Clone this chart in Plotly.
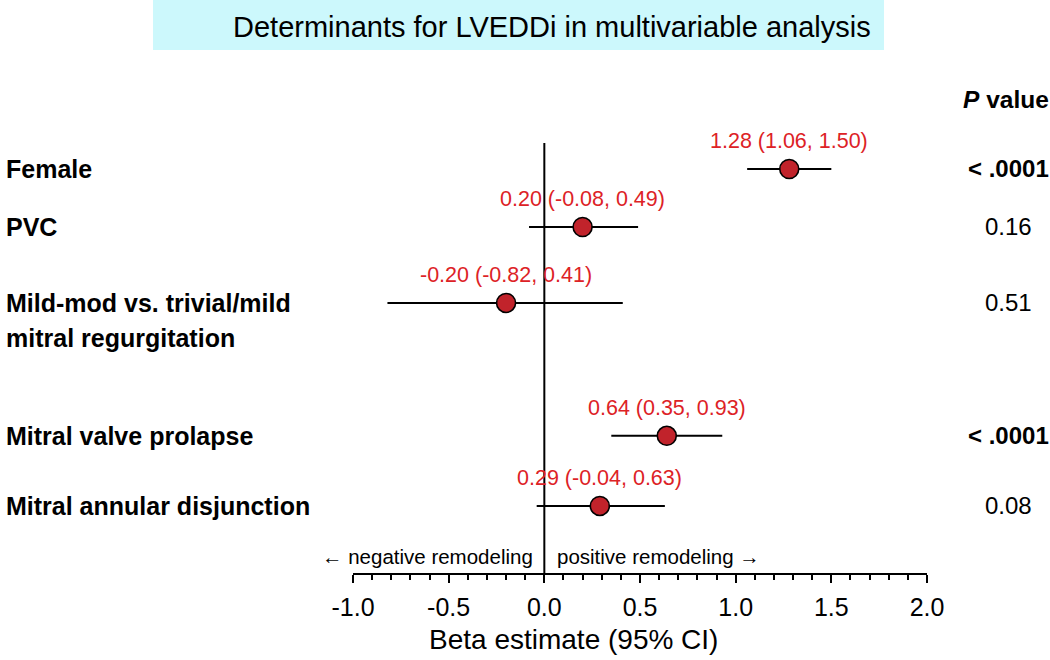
import plotly.graph_objects as go

# ---- data ----
factors = ["Female", "PVC", "Mild-mod vs. trivial/mild", "Mitral valve prolapse", "Mitral annular disjunction"]
factor_line2 = ["", "", "mitral regurgitation", "", ""]
estimates = [1.28, 0.20, -0.20, 0.64, 0.29]
ci_low = [1.06, -0.08, -0.82, 0.35, -0.04]
ci_high = [1.50, 0.49, 0.41, 0.93, 0.63]
p_values = ["< .0001", "0.16", "0.51", "< .0001", "0.08"]
p_bold = [True, False, False, True, False]
row_pos = [0, 1, 2.31, 4.60, 5.81]
tick_vals = [-1.0, -0.5, 0.0, 0.5, 1.0, 1.5, 2.0]
tick_text = ["-1.0", "-0.5", "0.0", "0.5", "1.0", "1.5", "2.0"]

FONT = "Liberation Sans, Arial, Helvetica, sans-serif"
RED_TXT = "#dd2226"
RED_FILL = "#c1232b"

W, H = 1050, 660
ML, MR, MT, MB = 353, 123, 143, 87
PW, PH = W - ML - MR, H - MT - MB


def px_to_paper_x(px):
    return (px - ML) / PW


def px_to_paper_y(py):
    return (H - MB - py) / PH


fig = go.Figure()

# CI lines
for est, lo, hi, y in zip(estimates, ci_low, ci_high, row_pos):
    fig.add_trace(go.Scatter(x=[lo, hi], y=[y, y], mode="lines",
                             line=dict(color="black", width=2),
                             showlegend=False, hoverinfo="skip"))

# point estimates
fig.add_trace(go.Scatter(x=estimates, y=row_pos, mode="markers",
                         marker=dict(size=19, color=RED_FILL,
                                     line=dict(color="black", width=1.6)),
                         showlegend=False))

# zero line
fig.add_shape(type="line", x0=0, x1=0, xref="x", y0=0, y1=1, yref="paper",
              line=dict(color="black", width=2))

annotations = []
# estimate labels
for est, lo, hi, y in zip(estimates, ci_low, ci_high, row_pos):
    annotations.append(dict(x=est, y=y, xref="x", yref="y",
                            text=f"{est:.2f} ({lo:.2f}, {hi:.2f})",
                            showarrow=False, yshift=28,
                            xanchor="center", yanchor="middle",
                            font=dict(family=FONT, size=21.5, color=RED_TXT)))

# factor labels
for name, name2, y in zip(factors, factor_line2, row_pos):
    annotations.append(dict(x=px_to_paper_x(4), y=y, xref="paper", yref="y",
                            text=f"<b>{name}</b>", showarrow=False,
                            xanchor="left", yanchor="middle",
                            font=dict(family=FONT, size=25, color="black")))
    if name2:
        annotations.append(dict(x=px_to_paper_x(4), y=y, xref="paper", yref="y",
                                text=f"<b>{name2}</b>", showarrow=False,
                                xanchor="left", yanchor="middle", yshift=-35,
                                font=dict(family=FONT, size=25, color="black")))

# p values
annotations.append(dict(x=px_to_paper_x(1006), y=px_to_paper_y(100), xref="paper", yref="paper",
                        text="<b><i>P</i> value</b>", showarrow=False,
                        xanchor="center", yanchor="middle",
                        font=dict(family=FONT, size=24.5, color="black")))
for p, b, y in zip(p_values, p_bold, row_pos):
    annotations.append(dict(x=px_to_paper_x(1008), y=y, xref="paper", yref="y",
                            text=f"<b>{p}</b>" if b else p, showarrow=False,
                            xanchor="center", yanchor="middle",
                            font=dict(family=FONT, size=24, color="black")))

# remodeling direction labels
annotations.append(dict(x=0, y=px_to_paper_y(556), xref="x", yref="paper",
                        text="\u2190 negative remodeling", showarrow=False,
                        xanchor="right", yanchor="middle", xshift=-9,
                        font=dict(family=FONT, size=20.5, color="black")))
annotations.append(dict(x=0, y=px_to_paper_y(556), xref="x", yref="paper",
                        text="positive remodeling \u2192", showarrow=False,
                        xanchor="left", yanchor="middle", xshift=11,
                        font=dict(family=FONT, size=20.5, color="black")))

# x-axis title
annotations.append(dict(x=0.15, y=px_to_paper_y(639), xref="x", yref="paper",
                        text="Beta estimate (95% CI)", showarrow=False,
                        xanchor="center", yanchor="middle",
                        font=dict(family=FONT, size=28, color="black")))

# title box
fig.add_shape(type="rect", xref="paper", yref="paper",
              x0=px_to_paper_x(153), x1=px_to_paper_x(884),
              y0=px_to_paper_y(50), y1=px_to_paper_y(0),
              fillcolor="#ccf8fc", line=dict(width=0), layer="below")
annotations.append(dict(x=px_to_paper_x(552), y=px_to_paper_y(27), xref="paper", yref="paper",
                        text="Determinants for LVEDDi in multivariable analysis",
                        showarrow=False, xanchor="center", yanchor="middle",
                        font=dict(family=FONT, size=29, color="black")))

fig.update_layout(
    width=W, height=H,
    margin=dict(l=ML, r=MR, t=MT, b=MB),
    paper_bgcolor="white", plot_bgcolor="white",
    annotations=annotations,
    xaxis=dict(range=[-1, 2], showgrid=False, zeroline=False,
               showline=True, linecolor="black", linewidth=2,
               ticks="outside", ticklen=8, tickwidth=2, tickcolor="black",
               tickvals=tick_vals, ticktext=tick_text,
               tickfont=dict(family=FONT, size=25, color="black"),
               ticklabelstandoff=3,
               minor=dict(dtick=0.1, ticks="outside", ticklen=5, tickwidth=2, tickcolor="black")),
    yaxis=dict(range=[6.966, -0.448], visible=False, showgrid=False, zeroline=False),
    showlegend=False,
)

fig.write_html("out.html", config={"displayModeBar": False},
               post_script="document.body.style.margin='0px';")
